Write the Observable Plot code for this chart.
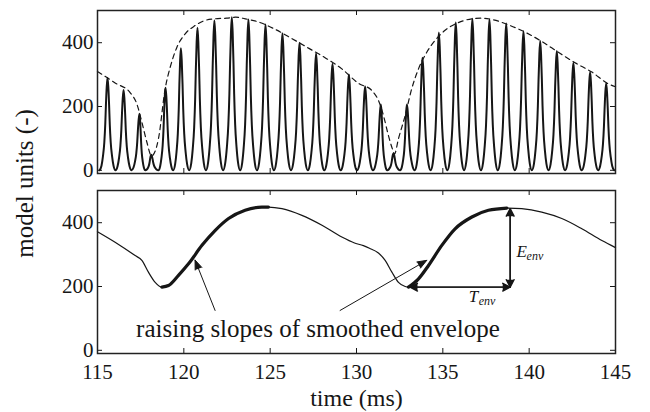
<!DOCTYPE html>
<html><head><meta charset="utf-8">
<script src="https://cdn.jsdelivr.net/npm/d3@7"></script>
<script src="https://cdn.jsdelivr.net/npm/@observablehq/plot@0.6"></script>
<style>
body{margin:0;background:#fff}
</style>
</head><body><div id="chart"></div>
<script>
// ---- data ----
const panels = ["top", "bottom"];
const xTicks = [115, 120, 125, 130, 135, 140, 145];
const yTicks = [0, 200, 400];

// peaks of the oscillating model output (top panel)
const peakTimes = [115.58, 116.51, 117.43, 118.11, 118.94, 119.83, 120.79, 121.77, 122.78, 123.74,
  124.73, 125.71, 126.70, 127.66, 128.61, 129.56, 130.50, 131.41, 132.14, 132.92, 133.82, 134.77,
  135.75, 136.71, 137.70, 138.67, 139.67, 140.64, 141.60, 142.56, 143.53, 144.46];
const peakValues = [290, 252, 177, 49, 259, 383, 447, 470, 480, 473,
  457, 430, 400, 367, 334, 300, 263, 206, 53, 206, 353, 432,
  463, 475, 473, 460, 436, 405, 374, 337, 308, 273];
// shape of one pulse: offset (fraction of half-period) vs fraction of peak
const pulseShapeU = [0, 0.1, 0.2, 0.28, 0.4, 0.57, 0.75, 1];
const pulseShapeF = [1, 0.9, 0.7, 0.5, 0.3, 0.15, 0.05, 0];

// dashed envelope (top panel)
const envTopT = [115, 116.02, 116.9, 117.28, 117.57, 117.86, 118.13, 118.53, 118.92, 119.21, 119.6,
  120.08, 120.66, 121.24, 121.82, 122.49, 123.0, 123.55, 124.32, 125.29, 126.26, 127.22, 128.18,
  129.15, 130.11, 130.89, 131.27, 131.56, 131.85, 132.08, 132.2, 132.43, 132.82, 133.2, 133.59,
  134.07, 134.55, 135.13, 135.9, 136.68, 137.26, 137.84, 138.8, 139.77, 140.73, 141.69, 142.66,
  143.63, 144.59, 145];
const envTopV = [310, 274, 243, 208, 151, 88, 45, 99, 256, 323, 386,
  428, 454, 470, 475, 477, 480, 475, 465, 442, 413, 383, 353,
  318, 273, 250, 219, 172, 109, 67, 51, 99, 172, 256, 318,
  370, 407, 439, 463, 475, 477, 473, 456, 433, 404, 370, 337,
  308, 271, 262];

// smoothed envelope (bottom panel)
const envBotT = [115, 116.02, 117.18, 117.57, 117.95, 118.34, 118.73, 119.11, 119.69, 120.27, 121.05,
  121.82, 122.59, 123.55, 124.52, 124.9, 125.68, 126.84, 128.0, 129.15, 129.85, 130.4, 130.75,
  131.27, 131.66, 132.05, 132.43, 132.82, 133.01, 133.59, 134.17, 134.94, 135.71, 136.68, 137.64,
  138.71, 139.57, 140.73, 141.89, 143.05, 144.21, 145];
const envBotV = [372, 339, 297, 282, 245, 213, 198, 203, 235, 271, 329,
  376, 413, 439, 449, 449, 444, 423, 392, 355, 337, 328, 320,
  305, 282, 245, 213, 200, 198, 224, 266, 329, 381, 418, 439,
  446, 444, 433, 413, 381, 344, 322];
const risingStart = [118.73, 133.01];
const risingEnd = [124.9, 138.71];

// annotations
const calloutText = "raising slopes of smoothed envelope";
const calloutT = [127.77];
const calloutV = [43];
const calloutTailT = [121.81, 129.05];
const calloutTailV = [125, 125];
const calloutTipT = [120.65, 134.07];
const calloutTipV = [283, 282];
const dimFromT = [138.9, 133.1, 138.9, 138.9];
const dimFromV = [198, 198, 444, 198];
const dimToT = [133.1, 138.9, 138.9, 138.9];
const dimToV = [198, 198, 198, 444];
const symLetters = ["E", "T"];
const symSub = ["env", "env"];
const symT = [139.27, 136.5];
const symV = [294, 150];
const xLabel = "time (ms)";
const yLabel = "model units (-)";

// ---- build tables ----
const n = peakTimes.length;
const pulsePts = [];
peakTimes.forEach((t, i) => {
  const left = (i > 0 ? t - peakTimes[i - 1] : peakTimes[i + 1] - t) / 2;
  const right = (i < n - 1 ? peakTimes[i + 1] - t : t - peakTimes[i - 1]) / 2;
  const h = peakValues[i];
  const m = pulseShapeU.length;
  for (let k = m - 1; k >= 1; k--) {
    if (k === m - 1 && i > 0) continue;
    pulsePts.push({panel: "top", t: t - left * pulseShapeU[k], v: h * pulseShapeF[k]});
  }
  pulsePts.push({panel: "top", t, v: h});
  for (let k = 1; k < m; k++) pulsePts.push({panel: "top", t: t + right * pulseShapeU[k], v: h * pulseShapeF[k]});
});
const envTop = envTopT.map((t, i) => ({panel: "top", t, v: envTopV[i]}));
const envBot = envBotT.map((t, i) => ({panel: "bottom", t, v: envBotV[i]}));
const rising = [];
risingStart.forEach((s, j) => envBot.forEach(d => { if (d.t >= s && d.t <= risingEnd[j]) rising.push({...d, seg: j}); }));
const callouts = calloutTailT.map((t, i) => ({panel: "bottom", t1: t, v1: calloutTailV[i], t2: calloutTipT[i], v2: calloutTipV[i]}));
const dims = dimFromT.map((t, i) => ({panel: "bottom", t1: t, v1: dimFromV[i], t2: dimToT[i], v2: dimToV[i]}));
const syms = symLetters.map((s, i) => ({panel: "bottom", s, sub: symSub[i], t: symT[i], v: symV[i]}));
const callout = calloutT.map((t, i) => ({panel: "bottom", text: calloutText, t, v: calloutV[i]}));

const ink = "#161616";
const serif = "Liberation Serif";
const frameH = 163, frameW = 518, tk = 5;

const chart = Plot.plot({
  width: 650, height: 412,
  marginLeft: 97, marginRight: 35, marginTop: 10, marginBottom: 59,
  style: {fontFamily: serif, fontSize: "21px", color: ink, background: "#fff"},
  x: {domain: [115, 145], ticks: xTicks, tickSize: 0, tickPadding: 11, label: null, tickFormat: d => String(d)},
  y: {domain: [-10, 501], ticks: yTicks, tickSize: 0, tickPadding: 4, label: null, tickFormat: d => String(d)},
  fy: {domain: panels, axis: null, label: null, paddingInner: 17 / 180, paddingOuter: 0},
  marks: [
    // pulses
    Plot.line(pulsePts, {x: "t", y: "v", fy: "panel", curve: "monotone-x", stroke: ink, strokeWidth: 2}),
    Plot.line(envTop, {x: "t", y: "v", fy: "panel", curve: "monotone-x", stroke: ink, strokeWidth: 1.2, strokeDasharray: "5,4"}),
    // smoothed envelope
    Plot.line(envBot, {x: "t", y: "v", fy: "panel", curve: "monotone-x", stroke: ink, strokeWidth: 1.2}),
    Plot.line(rising, {x: "t", y: "v", z: "seg", fy: "panel", curve: "monotone-x", stroke: ink, strokeWidth: 3.2}),
    // arrows
    Plot.arrow(callouts, {x1: "t1", y1: "v1", x2: "t2", y2: "v2", fy: "panel", stroke: ink, fill: ink, strokeWidth: 1, headLength: 15, headAngle: 42}),
    Plot.arrow(dims, {x1: "t1", y1: "v1", x2: "t2", y2: "v2", fy: "panel", stroke: ink, fill: ink, strokeWidth: 1.4, headLength: 9, headAngle: 55}),
    Plot.text(callout, {x: "t", y: "v", fy: "panel", text: "text", fontFamily: serif, fontSize: 25, lineAnchor: "bottom", textAnchor: "middle", fill: ink}),
    Plot.text(syms, {x: "t", y: "v", fy: "panel", text: "s", fontFamily: serif, fontSize: 17, fontStyle: "italic", lineAnchor: "bottom", textAnchor: "start", fill: ink}),
    Plot.text(syms, {x: "t", y: "v", fy: "panel", text: "sub", fontFamily: serif, fontSize: 12, fontStyle: "italic", lineAnchor: "bottom", textAnchor: "start", dx: 10, dy: 3, fill: ink}),
    // axis labels
    Plot.text([{panel: "bottom", s: xLabel}], {fy: "panel", text: "s", frameAnchor: "bottom", dy: 52, lineAnchor: "bottom", fontFamily: serif, fontSize: 24, fill: ink}),
    Plot.text([{panel: "top", s: yLabel}], {fy: "panel", text: "s", frameAnchor: "bottom-left", dx: -73, dy: 10, rotate: -90, textAnchor: "middle", lineAnchor: "middle", fontFamily: serif, fontSize: 25, fill: ink}),
    // inward ticks on all four sides
    Plot.ruleX(xTicks, {x: d => d, insetTop: frameH - tk, stroke: ink, strokeWidth: 1}),
    Plot.ruleX(xTicks, {x: d => d, insetBottom: frameH - tk, stroke: ink, strokeWidth: 1}),
    Plot.ruleY(yTicks, {y: d => d, insetRight: frameW - tk, stroke: ink, strokeWidth: 1}),
    Plot.ruleY(yTicks, {y: d => d, insetLeft: frameW - tk, stroke: ink, strokeWidth: 1}),
    Plot.frame({stroke: "#222", strokeWidth: 1.5})
  ]
});
document.getElementById("chart").appendChild(chart);
</script>
</body></html>
